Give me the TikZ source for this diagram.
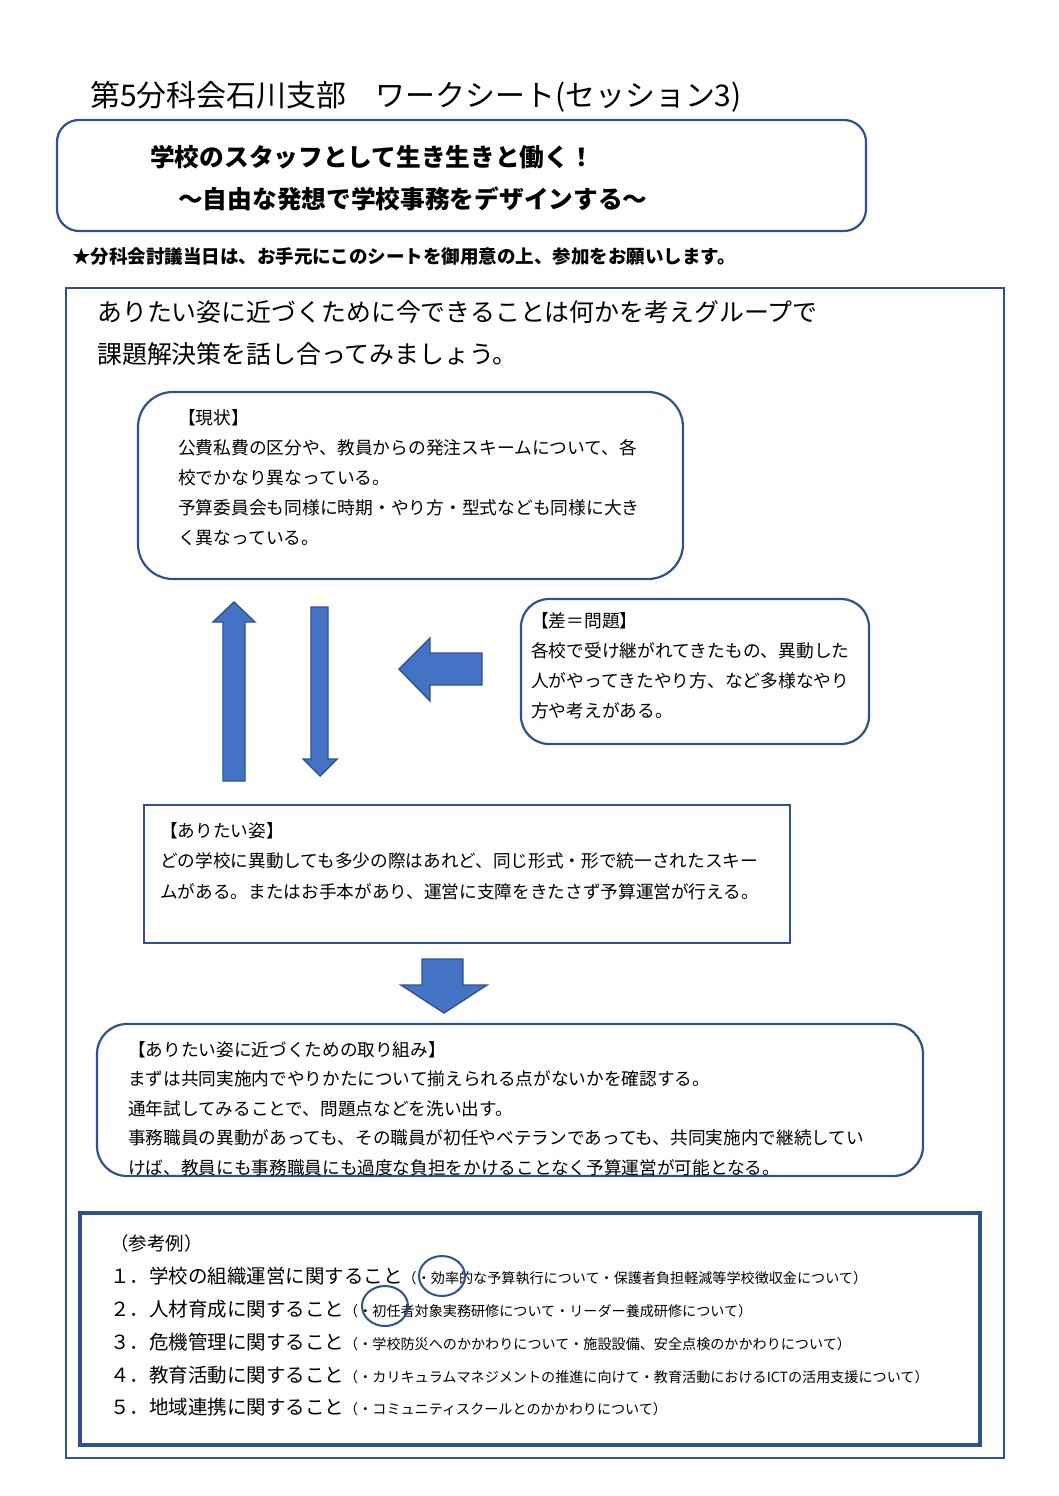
\documentclass[tikz,border=0pt]{standalone}
\usepackage{fontspec}
\setmainfont{Noto Sans CJK JP}
\usetikzlibrary{shapes.geometric}
\definecolor{lineblue}{RGB}{47,82,143}
\definecolor{arrowblue}{RGB}{68,114,196}
\newcommand{\jfs}[2]{\fontsize{#1}{#2}\selectfont}

\begin{document}
\begin{tikzpicture}[
    x=1pt, y=-1pt,
    rbox/.style={draw=lineblue, line width=2.2pt, rounded corners=#1, inner sep=0pt},
    rbox/.default=30pt,
    sqbox/.style={draw=lineblue, line width=2.2pt, inner sep=0pt},
    textblock/.style={anchor=north west, inner sep=0pt, align=left},
    textline/.style={anchor=west, inner sep=0pt},
    fatarrow/.style={fill=arrowblue, draw=lineblue, line width=1.4pt, line join=miter},
    hlring/.style={draw=lineblue, line width=2pt, ellipse, inner sep=0pt,
        minimum width=46pt, minimum height=40pt}
]
\useasboundingbox (0,0) rectangle (1058,1496);

\node[textline, font=\jfs{29.9}{36}] (title) at (90,97)
    {第5分科会石川支部　ワークシート(セッション3)};

\node[rbox=22pt, minimum width=809pt, minimum height=111pt] (theme) at (461.5,175.5) {};
\node[textline, font=\jfs{24.7}{30}\bfseries] (theme1) at (150,157)
    {学校のスタッフとして生き生きと働く！};
\node[textline, font=\jfs{24.7}{30}\bfseries] (theme2) at (178,199)
    {～自由な発想で学校事務をデザインする～};

\node[textline, font=\jfs{18.5}{24}\bfseries] (notice) at (72,257)
    {★分科会討議当日は、お手元にこのシートを御用意の上、参加をお願いします。};

\node[sqbox, line width=2pt, minimum width=938pt, minimum height=1170pt] (frame) at (535,873) {};
\node[textblock, font=\jfs{24.9}{42}] (task) at (97,300.6)
    {ありたい姿に近づくために今できることは何かを考えグループで\\
     課題解決策を話し合ってみましょう。};

\node[rbox=35pt, minimum width=545pt, minimum height=187pt] (genjo) at (410.5,485.5) {};
\node[textblock, font=\jfs{17.75}{30}] (genjotext) at (178,409.1)
    {【現状】\\
     公費私費の区分や、教員からの発注スキームについて、各\\
     校でかなり異なっている。\\
     予算委員会も同様に時期・やり方・型式なども同様に大き\\
     く異なっている。};

\node[rbox=28pt, minimum width=348pt, minimum height=145pt] (sa) at (695,671.5) {};
\node[textblock, font=\jfs{17.75}{30}] (satext) at (531,612.1)
    {【差＝問題】\\
     各校で受け継がれてきたもの、異動した\\
     人がやってきたやり方、など多様なやり\\
     方や考えがある。};

\filldraw[fatarrow] (234,602) -- (255,622) -- (245,622) -- (245,781)
    -- (223,781) -- (223,622) -- (213,622) -- cycle;
\filldraw[fatarrow] (311,607) -- (328,607) -- (328,759) -- (337,759)
    -- (320,776) -- (303,759) -- (311,759) -- cycle;
\filldraw[fatarrow] (399,669) -- (430,638) -- (430,653) -- (482,653)
    -- (482,685) -- (430,685) -- (430,701) -- cycle;

\node[sqbox, minimum width=646pt, minimum height=138pt] (arita) at (467,874) {};
\node[textblock, font=\jfs{17.65}{30.5}] (aritatext) at (160,822.1)
    {【ありたい姿】\\
     どの学校に異動しても多少の際はあれど、同じ形式・形で統一されたスキー\\
     ムがある。またはお手本があり、運営に支障をきたさず予算運営が行える。};

\filldraw[fatarrow] (422,959) -- (463,959) -- (463,985) -- (487,985)
    -- (444,1013) -- (401,985) -- (422,985) -- cycle;

\node[rbox=30pt, minimum width=826pt, minimum height=152pt] (torikumi) at (510,1100) {};
\node[textblock, font=\jfs{17.65}{29.5}] (torikumitext) at (128,1041.1)
    {【ありたい姿に近づくための取り組み】\\
     まずは共同実施内でやりかたについて揃えられる点がないかを確認する。\\
     通年試してみることで、問題点などを洗い出す。\\
     事務職員の異動があっても、その職員が初任やベテランであっても、共同実施内で継続してい\\
     けば、教員にも事務職員にも過度な負担をかけることなく予算運営が可能となる。};

\node[sqbox, line width=4pt, minimum width=900pt, minimum height=232pt] (sanko) at (530,1329) {};
\node[textline, font=\jfs{18.5}{24}] (sankohead) at (110,1243) {（参考例）};
\node[textblock, font=\jfs{19.5}{32.75}] (sankolist) at (110,1267.25)
    {１．学校の組織運営に関すること{\jfs{14.1}{32.75}（・効率的な予算執行について・保護者負担軽減等学校徴収金について）}\\
     ２．人材育成に関すること{\jfs{14.1}{32.75}（・初任者対象実務研修について・リーダー養成研修について）}\\
     ３．危機管理に関すること{\jfs{14.1}{32.75}（・学校防災へのかかわりについて・施設設備、安全点検のかかわりについて）}\\
     ４．教育活動に関すること{\jfs{14.1}{32.75}（・カリキュラムマネジメントの推進に向けて・教育活動におけるICTの活用支援について）}\\
     ５．地域連携に関すること{\jfs{14.1}{32.75}（・コミュニティスクールとのかかわりについて）}};

\node[hlring] (ring1) at (442,1276) {};
\node[hlring] (ring2) at (385,1306) {};

\end{tikzpicture}
\end{document}
